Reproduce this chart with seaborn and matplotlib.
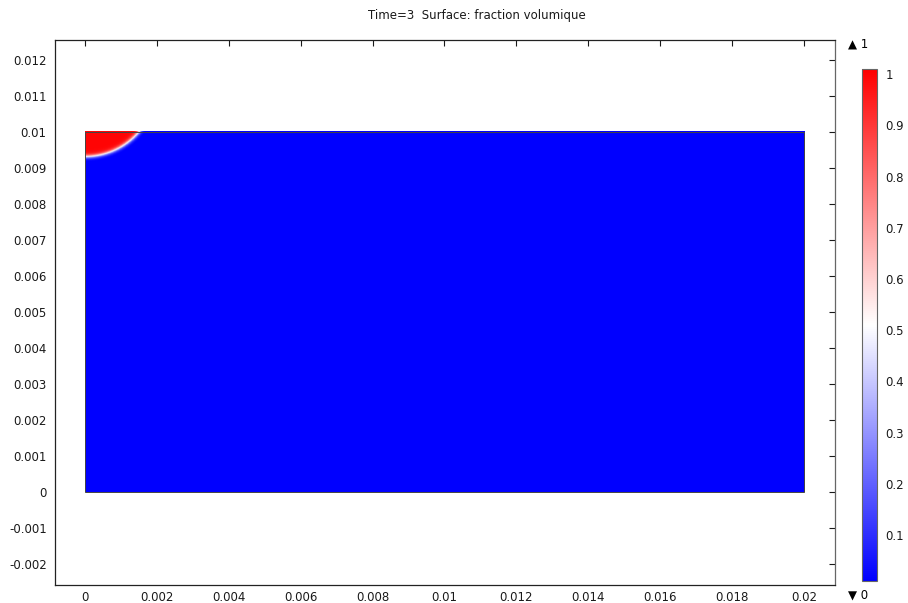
import numpy as np
import matplotlib
matplotlib.use("Agg")
import matplotlib.pyplot as plt
import seaborn as sns

# Domain and droplet description (volume fraction field)
domain_x = [0.0, 0.02]
domain_y = [0.0, 0.01]
drop_center = [0.0, 0.01127]
drop_radius = 0.00197
interface_width = 0.032
field_range = [0.01, 1.01]

x_ticks = [0, 0.002, 0.004, 0.006, 0.008, 0.01, 0.012, 0.014, 0.016, 0.018, 0.02]
x_labels = ["0", "0.002", "0.004", "0.006", "0.008", "0.01", "0.012", "0.014", "0.016", "0.018", "0.02"]
y_ticks = [-0.002, -0.001, 0, 0.001, 0.002, 0.003, 0.004, 0.005, 0.006, 0.007, 0.008, 0.009, 0.01, 0.011, 0.012]
y_labels = ["-0.002", "-0.001", "0", "0.001", "0.002", "0.003", "0.004", "0.005", "0.006", "0.007",
            "0.008", "0.009", "0.01", "0.011", "0.012"]
cbar_ticks = [0.1, 0.2, 0.3, 0.4, 0.5, 0.6, 0.7, 0.8, 0.9, 1.0]
cbar_labels = ["0.1", "0.2", "0.3", "0.4", "0.5", "0.6", "0.7", "0.8", "0.9", "1"]
title = "Time=3  Surface: fraction volumique"
max_label = "\u25b2 1"
min_label = "\u25bc 0"

sns.set_style("white")
plt.rcParams["font.family"] = ["DejaVu Sans"]

# Build the surface field on a fine grid
nx, ny = 1200, 600
xs = np.linspace(domain_x[0], domain_x[1], nx)
ys = np.linspace(domain_y[0], domain_y[1], ny)
X, Y = np.meshgrid(xs, ys)
r = np.hypot(X - drop_center[0], Y - drop_center[1]) / drop_radius
phi = 0.5 * (1 - np.tanh((r - 1) / interface_width))

cmap = sns.blend_palette(["#0000ff", "#ffffff", "#ff0000"], as_cmap=True)

fig = plt.figure(figsize=(9.08, 6.03), dpi=100)
ax = fig.add_axes([55 / 908, 1 - 585 / 603, 780 / 908, 545 / 603])
im = ax.imshow(phi, origin="lower", extent=[domain_x[0], domain_x[1], domain_y[0], domain_y[1]],
               cmap=cmap, vmin=field_range[0], vmax=field_range[1], aspect="auto",
               interpolation="bilinear")
ax.add_patch(plt.Rectangle((domain_x[0], domain_y[0]), domain_x[1] - domain_x[0],
                           domain_y[1] - domain_y[0], fill=False, edgecolor="#444444", lw=0.7))

ax.set_xlim(-0.000834, 0.020862)
ax.set_ylim(-0.00258, 0.012556)
ax.set_xticks(x_ticks)
ax.set_xticklabels(x_labels)
ax.set_yticks(y_ticks)
ax.set_yticklabels(y_labels)
ax.tick_params(direction="in", length=4, width=0.8, top=True, right=True, labelsize=8.5,
               colors="#1a1a1a", pad=6)
ax.tick_params(axis="x", pad=4)
for side in ["left", "bottom", "top", "right"]:
    ax.spines[side].set_visible(True)
    ax.spines[side].set_linewidth(0.9)
    ax.spines[side].set_color("#222222")
ax.spines["right"].set_color("#666666")

fig.text(477 / 908, 1 - 15 / 603, title, ha="center", va="center", fontsize=8.5, color="#1a1a1a")

cax = fig.add_axes([862 / 908, 1 - 581 / 603, 15 / 908, 512 / 603])
cb = fig.colorbar(im, cax=cax)
cb.set_ticks(cbar_ticks)
cb.set_ticklabels(cbar_labels)
cb.outline.set_edgecolor("#666666")
cb.outline.set_linewidth(0.8)
cax.tick_params(direction="in", left=True, right=True, length=3, width=0.8, labelsize=8.5,
                colors="#1a1a1a", pad=6)

fig.text(848 / 908, 1 - 44 / 603, max_label, ha="left", va="center", fontsize=8.5, color="#000000")
fig.text(848 / 908, 1 - 595 / 603, min_label, ha="left", va="center", fontsize=8.5, color="#000000")

fig.savefig("out.png", dpi=100)
